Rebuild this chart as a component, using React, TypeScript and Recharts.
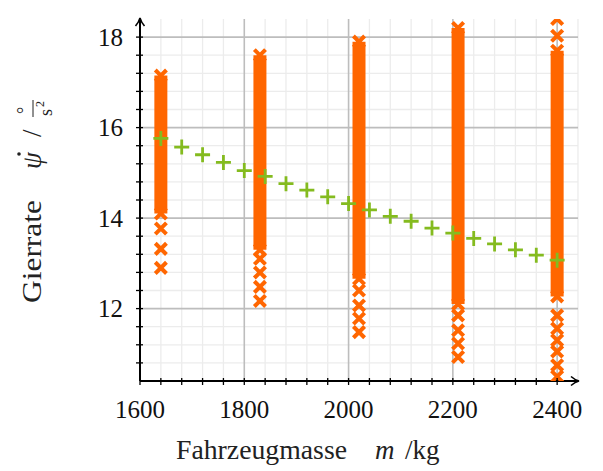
import React from 'react';
import { ComposedChart, Scatter, Line, XAxis, YAxis, CartesianGrid } from 'recharts';

// simulation columns (vehicle mass) – solid band from bottom to top, plus single hits
const masses = [1640, 1830, 2020, 2210, 2400];
const denseTop = [17.15, 17.6, 17.9, 18.2, 17.7];
const denseBottom = [14.1, 13.3, 12.66, 12.1, 12.27];
const extra1640 = [13.77, 13.32, 12.9];
const extra1830 = [13.1, 12.8, 12.48, 12.17];
const extra2020 = [12.4, 12.07, 11.78, 11.48];
const extra2210 = [11.85, 11.52, 11.23, 10.93];
const extra2400 = [18.4, 18.03, 11.85, 11.56, 11.3, 11.05, 10.75, 10.5];

// model prediction
const modelMass = [1640, 1680, 1720, 1760, 1800, 1840, 1880, 1920, 1960, 2000, 2040, 2080, 2120, 2160, 2200, 2240, 2280, 2320, 2360, 2400];
const modelRate = [15.76, 15.57, 15.4, 15.23, 15.05, 14.92, 14.76, 14.62, 14.47, 14.32, 14.18, 14.04, 13.93, 13.78, 13.67, 13.55, 13.43, 13.3, 13.18, 13.07];

const xTicks = [1600, 1640, 1680, 1720, 1760, 1800, 1840, 1880, 1920, 1960, 2000, 2040, 2080, 2120, 2160, 2200, 2240, 2280, 2320, 2360, 2400];
const xMajor = [1600, 1800, 2000, 2200, 2400];
const xMinorGrid = [1640, 1680, 1720, 1760, 1840, 1880, 1920, 1960, 2040, 2080, 2120, 2160, 2240, 2280, 2320, 2360, 2440];
const yTicks = [10.8, 11.2, 11.6, 12, 12.4, 12.8, 13.2, 13.6, 14, 14.4, 14.8, 15.2, 15.6, 16, 16.4, 16.8, 17.2, 17.6, 18];
const yMajor = [12, 14, 16, 18];
const yMinorGrid = [10.8, 11.2, 11.6, 12.4, 12.8, 13.2, 13.6, 14.4, 14.8, 15.2, 15.6, 16.4, 16.8, 17.2, 17.6];

const ORANGE = '#ff6600';
const GREEN = '#84bb1f';
const FONT = '"Liberation Serif", "DejaVu Serif", serif';

const extras = [extra1640, extra1830, extra2020, extra2210, extra2400];
const simPoints = masses.flatMap((m, i) => [
  { m, r: denseTop[i] },
  { m, r: denseBottom[i] },
  ...extras[i].map((r) => ({ m, r })),
]);
const modelPoints = modelMass.map((m, i) => ({ m, r: modelRate[i] }));

const CrossMark = (p: any) => {
  const { cx, cy } = p;
  const s = 5.6;
  return (
    <path
      d={`M${cx - s},${cy - s}L${cx + s},${cy + s}M${cx - s},${cy + s}L${cx + s},${cy - s}`}
      stroke={ORANGE}
      strokeWidth={4}
      fill="none"
    />
  );
};

const PlusMark = (p: any) => {
  const { cx, cy } = p;
  const s = 7.5;
  return (
    <path d={`M${cx - s},${cy}H${cx + s}M${cx},${cy - s}V${cy + s}`} stroke={GREEN} strokeWidth={2.8} fill="none" />
  );
};

const XTick = (props: any) => {
  const { x, y, payload } = props;
  return (
    <g>
      <line x1={x} x2={x} y1={y - 3} y2={y + 4} stroke="#000" strokeWidth={1.3} />
      {xMajor.includes(payload.value) && (
        <text x={x} y={y + 37} textAnchor="middle" fontFamily={FONT} fontSize={25} fill="#111">
          {payload.value}
        </text>
      )}
    </g>
  );
};

const YTick = (props: any) => {
  const { x, y, payload } = props;
  return (
    <g>
      <line x1={x - 4} x2={x + 3} y1={y} y2={y} stroke="#000" strokeWidth={1.3} />
      {yMajor.includes(payload.value) && (
        <text x={x - 17} y={y + 8.5} textAnchor="end" fontFamily={FONT} fontSize={25} fill="#111">
          {payload.value}
        </text>
      )}
    </g>
  );
};

export default function App() {
  return (
    <div style={{ position: 'absolute', left: 0, top: 0, width: 603, height: 471, background: '#fff' }}>
      <ComposedChart width={603} height={471} margin={{ top: 19, right: 25, bottom: 0, left: 0 }}>
        <CartesianGrid horizontalValues={yMinorGrid} verticalValues={xMinorGrid} stroke="#ececec" strokeWidth={1.3} />
        <CartesianGrid horizontalValues={yMajor} verticalValues={xMajor} stroke="#bdbdbd" strokeWidth={1.6} />
        <XAxis
          type="number"
          dataKey="m"
          domain={[1600, 2440]}
          ticks={xTicks}
          interval={0}
          height={90}
          allowDataOverflow
          axisLine={{ stroke: '#000', strokeWidth: 2, markerEnd: 'url(#arrowHead)' }}
          tickLine={false}
          tickSize={0}
          tickMargin={0}
          tick={<XTick />}
        />
        <YAxis
          type="number"
          dataKey="r"
          domain={[10.4, 18.4]}
          ticks={yTicks}
          interval={0}
          width={140}
          allowDataOverflow
          axisLine={{ stroke: '#000', strokeWidth: 2, markerStart: 'url(#arrowHead)' }}
          tickLine={false}
          tickSize={0}
          tickMargin={0}
          tick={<YTick />}
        />
        {masses.map((m, i) => (
          <Line
            key={m}
            data={[{ m, r: denseBottom[i] }, { m, r: denseTop[i] }]}
            dataKey="r"
            stroke={ORANGE}
            strokeWidth={13}
            dot={false}
            activeDot={false}
            isAnimationActive={false}
          />
        ))}
        <Scatter data={simPoints} dataKey="r" shape={CrossMark} isAnimationActive={false} />
        <Scatter data={modelPoints} dataKey="r" shape={PlusMark} isAnimationActive={false} />
      </ComposedChart>
      <svg width={603} height={471} style={{ position: 'absolute', left: 0, top: 0, pointerEvents: 'none' }}>
        <defs>
          <marker id="arrowHead" viewBox="0 0 12 12" refX="9" refY="6" markerWidth="12" markerHeight="12" markerUnits="userSpaceOnUse" orient="auto-start-reverse">
            <path d="M2,1.5 Q6,5 10,6 Q6,7 2,10.5" fill="none" stroke="#000" strokeWidth={1.6} />
          </marker>
        </defs>
        <g fontFamily={FONT} fontSize={27} fill="#222">
          <text x={176} y={459} textLength={171} lengthAdjust="spacingAndGlyphs">Fahrzeugmasse</text>
          <text x={375} y={459} fontStyle="italic">m</text>
          <text x={405} y={459}>/kg</text>
          <g transform="translate(41,303) rotate(-90)">
            <text x={0} y={0} textLength={103} lengthAdjust="spacingAndGlyphs">Gierrate</text>
            <text x={134} y={0} fontStyle="italic">ψ</text>
            <circle cx={149} cy={-22} r={1.8} fill="#222" />
            <text x={166} y={0}>/</text>
            <text x={189} y={-11} fontSize={18}>°</text>
            <line x1={186} x2={203} y1={-8} y2={-8} stroke="#222" strokeWidth={1} />
            <text x={187} y={11} fontSize={18}>s</text>
            <text x={196} y={3} fontSize={12}>2</text>
          </g>
        </g>
      </svg>
    </div>
  );
}
